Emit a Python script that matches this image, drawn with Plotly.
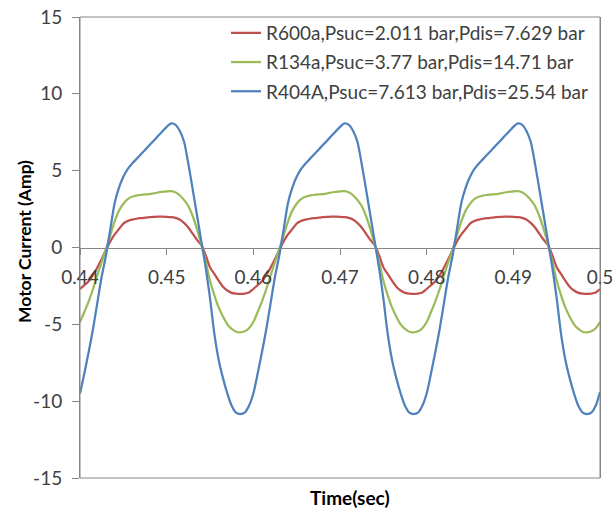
import plotly.graph_objects as go

# Sample times (s), 0.5 ms step over three supply cycles (0.44 s to 0.50 s)
time_s = [round(0.440 + 0.0005 * i, 4) for i in range(121)]

# Motor current (A) for each refrigerant, one row per 20 ms cycle
r600a = [
    -2.70, -2.45, -2.20, -1.80, -1.30, -0.75, -0.15, 0.40, 0.85, 1.20,
    1.55, 1.72, 1.81, 1.87, 1.91, 1.94, 1.97, 1.99, 2.01, 2.01,
    2.00, 1.98, 1.93, 1.82, 1.60, 1.30, 0.90, 0.50, 0.15, -0.50,
    -1.28, -1.72, -2.16, -2.55, -2.80, -2.95, -3.00, -3.02, -3.00, -2.93,
    -2.70, -2.45, -2.20, -1.80, -1.30, -0.75, -0.15, 0.40, 0.85, 1.20,
    1.55, 1.72, 1.81, 1.87, 1.91, 1.94, 1.97, 1.99, 2.01, 2.01,
    2.00, 1.98, 1.93, 1.82, 1.60, 1.30, 0.90, 0.50, 0.15, -0.50,
    -1.28, -1.72, -2.16, -2.55, -2.80, -2.95, -3.00, -3.02, -3.00, -2.93,
    -2.70, -2.45, -2.20, -1.80, -1.30, -0.75, -0.15, 0.40, 0.85, 1.20,
    1.55, 1.72, 1.81, 1.87, 1.91, 1.94, 1.97, 1.99, 2.01, 2.01,
    2.00, 1.98, 1.93, 1.82, 1.60, 1.30, 0.90, 0.50, 0.15, -0.50,
    -1.28, -1.72, -2.16, -2.55, -2.80, -2.95, -3.00, -3.02, -3.00, -2.93,
    -2.70,
]
r134a = [
    -4.85, -4.20, -3.50, -2.70, -1.80, -0.95, -0.10, 0.80, 1.70, 2.40,
    2.85, 3.15, 3.30, 3.38, 3.42, 3.45, 3.47, 3.52, 3.58, 3.62,
    3.66, 3.67, 3.60, 3.40, 3.10, 2.70, 2.05, 1.20, 0.20, -0.90,
    -2.15, -3.10, -3.90, -4.50, -5.00, -5.30, -5.48, -5.52, -5.45, -5.25,
    -4.85, -4.20, -3.50, -2.70, -1.80, -0.95, -0.10, 0.80, 1.70, 2.40,
    2.85, 3.15, 3.30, 3.38, 3.42, 3.45, 3.47, 3.52, 3.58, 3.62,
    3.66, 3.67, 3.60, 3.40, 3.10, 2.70, 2.05, 1.20, 0.20, -0.90,
    -2.15, -3.10, -3.90, -4.50, -5.00, -5.30, -5.48, -5.52, -5.45, -5.25,
    -4.85, -4.20, -3.50, -2.70, -1.80, -0.95, -0.10, 0.80, 1.70, 2.40,
    2.85, 3.15, 3.30, 3.38, 3.42, 3.45, 3.47, 3.52, 3.58, 3.62,
    3.66, 3.67, 3.60, 3.40, 3.10, 2.70, 2.05, 1.20, 0.20, -0.90,
    -2.15, -3.10, -3.90, -4.50, -5.00, -5.30, -5.48, -5.52, -5.45, -5.25,
    -4.85,
]
r404a = [
    -9.50, -8.20, -6.80, -5.30, -3.60, -1.90, -0.50, 1.20, 2.90, 3.90,
    4.60, 5.10, 5.45, 5.75, 6.05, 6.35, 6.65, 6.95, 7.25, 7.55,
    7.85, 8.08, 8.00, 7.60, 6.90, 5.45, 3.80, 2.10, 0.40, -1.30,
    -3.30, -5.60, -7.30, -8.50, -9.50, -10.30, -10.75, -10.84, -10.75, -10.30,
    -9.50, -8.20, -6.80, -5.30, -3.60, -1.90, -0.50, 1.20, 2.90, 3.90,
    4.60, 5.10, 5.45, 5.75, 6.05, 6.35, 6.65, 6.95, 7.25, 7.55,
    7.85, 8.08, 8.00, 7.60, 6.90, 5.45, 3.80, 2.10, 0.40, -1.30,
    -3.30, -5.60, -7.30, -8.50, -9.50, -10.30, -10.75, -10.84, -10.75, -10.30,
    -9.50, -8.20, -6.80, -5.30, -3.60, -1.90, -0.50, 1.20, 2.90, 3.90,
    4.60, 5.10, 5.45, 5.75, 6.05, 6.35, 6.65, 6.95, 7.25, 7.55,
    7.85, 8.08, 8.00, 7.60, 6.90, 5.45, 3.80, 2.10, 0.40, -1.30,
    -3.30, -5.60, -7.30, -8.50, -9.50, -10.30, -10.75, -10.84, -10.75, -10.30,
    -9.40,
]

series_names = [
    "R600a,Psuc=2.011 bar,Pdis=7.629 bar",
    "R134a,Psuc=3.77 bar,Pdis=14.71 bar",
    "R404A,Psuc=7.613 bar,Pdis=25.54 bar",
]
series_values = [r600a, r134a, r404a]
series_colors = ["#C0504D", "#9BBB59", "#4F81BD"]

x_ticks = [0.44, 0.45, 0.46, 0.47, 0.48, 0.49, 0.5]
x_tick_text = ["0.44", "0.45", "0.46", "0.47", "0.48", "0.49", "0.5"]
y_ticks = [-15, -10, -5, 0, 5, 10, 15]
y_tick_text = ["-15", "-10", "-5", "0", "5", "10", "15"]

FONT = "Lato, 'Open Sans', sans-serif"
TEXT = "#404040"
AXIS = "#868686"

# plot box in pixels
L, R, T, B = 80, 600, 17, 478
W, H = 613, 513
PW, PH = R - L, B - T

fig = go.Figure()
for i, (name, vals, col) in enumerate(zip(series_names, series_values, series_colors)):
    fig.add_trace(go.Scatter(
        x=time_s, y=vals, mode="lines", name=name,
        line=dict(color=col, width=2.25, shape="spline", smoothing=0.8),
        legendgroup=f"g{i}",
    ))

fig.update_layout(
    width=W, height=H,
    margin=dict(l=L, r=W - R, t=T, b=H - B, autoexpand=False),
    paper_bgcolor="white", plot_bgcolor="white",
    font=dict(family=FONT, size=19, color=TEXT),
    showlegend=True,
    legend=dict(
        x=(226 - L) / PW, y=1 + 3 / PH, xanchor="left", yanchor="top",
        bgcolor="rgba(0,0,0,0)", borderwidth=0,
        font=dict(family=FONT, size=19, color=TEXT),
        tracegroupgap=1.5, itemwidth=30,
    ),
    xaxis=dict(
        range=[0.44, 0.5], tickvals=x_ticks, ticktext=x_tick_text,
        anchor="free", position=0.5, automargin=False,
        showline=True, linecolor=AXIS, linewidth=1,
        ticks="outside", ticklen=6, tickcolor=AXIS,
        ticklabelstandoff=7, ticklabeloverflow="allow",
        showgrid=False, zeroline=False,
        tickfont=dict(family=FONT, size=19, color=TEXT),
    ),
    yaxis=dict(
        range=[-15, 15], tickvals=y_ticks, ticktext=y_tick_text,
        automargin=False,
        showline=True, linecolor=AXIS, linewidth=1, mirror=True,
        ticks="outside", ticklen=7, tickcolor=AXIS,
        ticklabelstandoff=6, ticklabeloverflow="allow",
        showgrid=False, zeroline=False,
        tickfont=dict(family=FONT, size=19, color=TEXT),
    ),
)

# Frame round the plotting area
fig.add_shape(type="rect", xref="paper", yref="paper", x0=0, x1=1, y0=0, y1=1,
              line=dict(color=AXIS, width=1), layer="above")

fig.add_annotation(
    text="<b>Time(sec)</b>", xref="paper", yref="paper",
    x=(350 - L) / PW, y=-(498 - B) / PH, xanchor="center", yanchor="middle",
    showarrow=False, font=dict(family=FONT, size=19, color="#000000"),
)
fig.add_annotation(
    text="<b>Motor Current (Amp)</b>", xref="paper", yref="paper",
    x=(24 - L) / PW, y=(B - 242) / PH, xanchor="center", yanchor="middle",
    textangle=-90, showarrow=False,
    font=dict(family=FONT, size=17.5, color="#000000"),
)

fig.write_html("out.html")
